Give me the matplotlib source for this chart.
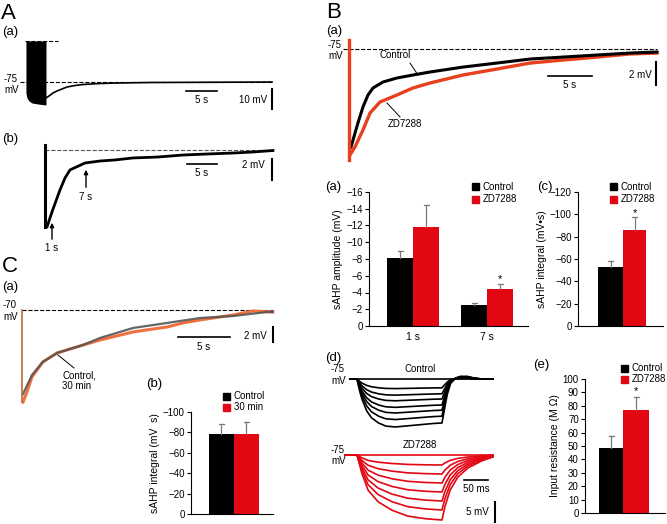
import matplotlib.pyplot as plt
from matplotlib.patches import Rectangle

plt.rcParams['font.family'] = ['Liberation Sans', 'DejaVu Sans']

W, H = 667, 524
RED = '#e30613'
TRACE_RED = '#e8401c'
ORANGE = '#f0703f'

# ---- A(a): spike train + sAHP (s, mV)
aa_block_t = [-3.23, -3.06, -2.74, -2.26, -1.29, 0.0]
aa_block_bot = [-80.5, -83.0, -84.5, -85.5, -86.0, -86.5]
aa_block_top = -54.5
aa_t = [0, 0.48, 1.13, 1.77, 2.58, 3.39, 4.68, 5.97, 8.71, 11.45, 16.77, 24.84, 36.45]
aa_v = [-83, -82, -80.5, -79.5, -78.5, -77.5, -76.75, -76.25, -75.75, -75.5, -75.25, -75.15, -75.0]

# ---- A(b): sAHP zoomed
ab_t = [0, 0.17, 1.0, 2.33, 3.17, 4.0, 6.5, 9.0, 11.5, 14.5, 18.67, 22.83, 27.0, 31.17, 34.5, 37.83]
ab_v = [-82.33, -82.33, -80.9, -78.81, -77.67, -76.9, -76.24, -76.05, -75.95, -75.76,
        -75.67, -75.48, -75.38, -75.29, -75.19, -75.05]

# ---- B(a): control vs ZD7288 sAHP
ba_ctrl_t = [0.23, 1.02, 1.59, 2.16, 2.73, 3.86, 5.45, 7.27, 9.2, 12.95, 16.82, 20.57, 24.32, 28.18, 31.93, 35.0]
ba_ctrl_v = [-83.52, -81.43, -80.04, -79.0, -78.39, -77.87, -77.52, -77.26, -77.0, -76.57,
             -76.22, -75.87, -75.7, -75.52, -75.35, -75.26]
ba_zd_t = [0.11, 0.68, 1.59, 2.39, 3.52, 5.45, 7.27, 9.2, 12.95, 16.82, 20.57, 24.32, 28.18, 31.93, 35.0]
ba_zd_v = [-84.22, -83.52, -82.04, -80.57, -79.61, -79.0, -78.39, -77.96, -77.26, -76.74,
           -76.22, -75.96, -75.7, -75.43, -75.35]

# ---- B(a) bars: sAHP amplitude (mV)
amp_groups = ['1 s', '7 s']
amp_ctrl = [-8.1, -2.5]
amp_ctrl_err = [0.8, 0.3]
amp_zd = [-11.8, -4.4]
amp_zd_err = [2.6, 0.6]

# ---- B(c) bars: sAHP integral (mV*s)
int_ctrl, int_ctrl_err = -52.6, 5.9
int_zd, int_zd_err = -86.0, 11.9

# ---- B(d): voltage responses to current steps (ms, mV)
ctrl_t = [-15, 0, 5, 10, 20, 30, 45, 60, 80, 100, 130, 160, 177, 182, 188, 195, 205, 215, 230, 245, 260, 283]
ctrl_shape = [0, 0, 0.25, 0.45, 0.72, 0.88, 1.0, 1.07, 1.09, 1.07, 1.04, 1.01, 1.0, 0.7, 0.35, 0.1,
              -0.02, -0.06, -0.06, -0.02, 0, 0]
ctrl_steps = [0, -2.2, -3.7, -5.0, -6.5, -7.8, -9.3, -11.0]
zd_t = [-25, 0, 10, 23, 44, 73, 106, 142, 177, 183, 194, 210, 231, 260, 283]
zd_shape = [0, 0, 0.28, 0.54, 0.72, 0.85, 0.94, 0.98, 1.0, 0.8, 0.54, 0.34, 0.2, 0.09, 0.03]
zd_steps = [0, -2.5, -4.75, -7.0, -9.25, -11.5, -13.75, -16.25]

# ---- B(e) bars: input resistance (MOhm)
rin_ctrl, rin_ctrl_err = 48.5, 9.2
rin_zd, rin_zd_err = 77.1, 9.5

# ---- C(a): control vs 30 min
ca_ctrl_t = [0.1, 0.96, 2.0, 3.37, 5.87, 7.5, 10.67, 13.94, 17.1, 20.3, 23.56, 24.1]
ca_ctrl_v = [-81.2, -78.67, -76.93, -75.73, -74.67, -73.73, -72.4, -71.73, -71.07, -70.8, -70.27, -70.27]
ca_30_t = [0.1, 0.48, 0.96, 2.0, 3.37, 5.87, 7.5, 10.67, 13.94, 15.48, 17.1, 20.3, 22.2, 24.1]
ca_30_v = [-82.27, -80.93, -78.93, -76.93, -75.73, -74.67, -74.0, -72.93, -72.27, -71.73,
           -71.33, -70.67, -70.13, -70.27]

# ---- C(b) bars
c_int_ctrl, c_int_ctrl_err = -78.7, 9.8
c_int_30, c_int_30_err = -78.7, 11.5


fig = plt.figure(figsize=(W / 100, H / 100), dpi=100)


def px_axes(x0, y0, x1, y1):
    return fig.add_axes([x0 / W, 1 - y1 / H, (x1 - x0) / W, (y1 - y0) / H])


def ftext(x, y, s, **kw):
    kw.setdefault('fontsize', 7)
    fig.text(x / W, 1 - y / H, s, **kw)


def legend_px(x, y, labels, colors, step=11.5):
    for i, (lab, col) in enumerate(zip(labels, colors)):
        yy = y + i * step
        fig.patches.append(Rectangle((x / W, 1 - (yy + 3.5) / H), 7 / W, 7 / H,
                                     transform=fig.transFigure, color=col))
        ftext(x + 10.5, yy, lab, fontsize=7, va='center')


def style_bar_axes(ax):
    for s in ('top', 'right'):
        ax.spines[s].set_visible(False)
    for s in ('left', 'bottom'):
        ax.spines[s].set_linewidth(0.8)
    ax.tick_params(axis='y', length=3, width=0.8, labelsize=7, pad=1.5)
    ax.tick_params(axis='x', length=0, labelsize=7.5, pad=4)


def err_up(ax, x, val, err, sign=1, cap=2.5):
    top = val + sign * err
    ax.plot([x, x], [val, top], color='#7a7a7a', lw=0.9)
    ax.plot([x - cap, x + cap], [top, top], color='#7a7a7a', lw=0.9)


# panel letters
ftext(1, 19, 'A', fontsize=16)
ftext(2, 35, '(a)', fontsize=9.5)
ftext(2, 142, '(b)', fontsize=9.5)
ftext(2, 272, 'C', fontsize=16)
ftext(2, 290, '(a)', fontsize=9.5)
ftext(146, 387, '(b)', fontsize=9.5)
ftext(326, 18, 'B', fontsize=16)
ftext(326, 34, '(a)', fontsize=9.5)
ftext(325, 190, '(a)', fontsize=9.5)
ftext(537, 190, '(c)', fontsize=9.5)
ftext(325, 361, '(d)', fontsize=9.5)
ftext(533, 368, '(e)', fontsize=9.5)

# ---------------- A(a)
ax = px_axes(20, 35, 280, 115)
ax.axis('off')
ax.set_xlim(-4.19, 37.74)
ax.set_ylim(-91.5, -51.5)
ax.fill_between(aa_block_t, aa_block_bot, aa_block_top, color='k', lw=0)
ax.plot(aa_t, aa_v, color='k', lw=1.2)
ax.plot([-3.39, 1.94], [aa_block_top] * 2, 'k--', lw=0.8)
ax.plot([-4.19, 36.6], [-75, -75], 'k--', lw=0.8)
ax.plot([22.58, 27.58], [-79.5, -79.5], 'k', lw=1.2)
ax.text(25.1, -84, '5 s', ha='center', va='center', fontsize=7)
ax.text(35.6, -84, '10 mV', ha='right', va='center', fontsize=7)
ax.plot([36.45, 36.45], [-78.5, -88.5], 'k', lw=1.5)
ftext(4, 79, '-75', va='center')
ftext(4, 90, 'mV', va='center')

# ---------------- A(b)
ax = px_axes(35, 140, 280, 255)
ax.axis('off')
ax.set_xlim(-1.83, 39)
ax.set_ylim(-85, -74.05)
ax.plot([-0.17, 37.8], [-75, -75], '--', color='#555555', lw=0.8)
ax.plot([-0.17, -0.17], [-74.52, -82.33], 'k', lw=2.2)
ax.plot(ab_t, ab_v, color='k', lw=2.0)
ax.annotate('', xy=(1.0, -81.67), xytext=(1.0, -83.76),
            arrowprops=dict(arrowstyle='-|>', color='k', lw=1, mutation_scale=6))
ax.text(1.0, -84.33, '1 s', ha='center', va='center', fontsize=7)
ax.annotate('', xy=(6.67, -76.62), xytext=(6.67, -78.81),
            arrowprops=dict(arrowstyle='-|>', color='k', lw=1, mutation_scale=6))
ax.text(6.67, -79.48, '7 s', ha='center', va='center', fontsize=7)
ax.plot([23.5, 28.5], [-76.33, -76.33], 'k', lw=1.2)
ax.text(26, -77.19, '5 s', ha='center', va='center', fontsize=7)
ax.text(36.5, -76.43, '2 mV', ha='right', va='center', fontsize=7)
ax.plot([37.67, 37.67], [-75.86, -77.86], 'k', lw=1.5)

# ---------------- B(a) traces
ax = px_axes(343, 35, 662, 165)
ax.axis('off')
ax.set_xlim(-0.68, 35.57)
ax.set_ylim(-85.09, -73.78)
ax.plot([-0.68, 35.0], [-75, -75], 'k--', lw=0.8)
ax.plot(ba_zd_t, ba_zd_v, color=TRACE_RED, lw=2.4)
ax.plot(ba_ctrl_t, ba_ctrl_v, color='k', lw=2.2)
ax.plot([0, 0], [-74.22, -84.65], color=TRACE_RED, lw=2.4)
ax.text(5.2, -75.52, 'Control', ha='center', va='center', fontsize=7)
ax.plot([6.93, 7.84], [-76.22, -77.26], 'k', lw=0.7)
ax.text(6.36, -81.52, 'ZD7288', ha='center', va='center', fontsize=7)
ax.plot([4.32, 5.8], [-79.7, -80.91], 'k', lw=0.7)
ax.plot([22.6, 27.6], [-77.35, -77.35], 'k', lw=1.2)
ax.text(25.1, -78.13, '5 s', ha='center', va='center', fontsize=7)
ax.text(34.4, -77.26, '2 mV', ha='right', va='center', fontsize=7)
ax.plot([34.9, 34.9], [-76.13, -78.13], 'k', lw=1.5)
ftext(328, 45, '-75', va='center')
ftext(328, 56, 'mV', va='center')

# ---------------- B(a) bars
x0, x1 = 369, 528
ax = px_axes(x0, 192, x1, 326)
style_bar_axes(ax)
ax.set_xlim(0, x1 - x0)
ax.set_ylim(0, -16)
ax.set_yticks(range(0, -17, -2))
ctrl_x = [400 - x0, 474 - x0]
zd_x = [426 - x0, 500 - x0]
ax.bar(ctrl_x, amp_ctrl, width=26, color='k')
ax.bar(zd_x, amp_zd, width=26, color=RED)
for x, v, e in zip(ctrl_x, amp_ctrl, amp_ctrl_err):
    err_up(ax, x, v, e, sign=-1)
for x, v, e in zip(zd_x, amp_zd, amp_zd_err):
    err_up(ax, x, v, e, sign=-1)
ax.text(zd_x[1], -5.55, '*', ha='center', va='center', fontsize=8)
ax.set_xticks([413 - x0, 487 - x0])
ax.set_xticklabels(amp_groups)
ax.set_ylabel('sAHP amplitude (mV)', fontsize=7.5, labelpad=2)
legend_px(472, 187, ['Control', 'ZD7288'], ['k', RED], step=12)

# ---------------- B(c) bars
x0, x1 = 578, 663
ax = px_axes(x0, 192, x1, 326)
style_bar_axes(ax)
ax.set_xlim(0, x1 - x0)
ax.set_ylim(0, -120)
ax.set_yticks(range(0, -121, -20))
ax.set_xticks([])
ax.bar(610.5 - x0, int_ctrl, width=25, color='k')
ax.bar(634.5 - x0, int_zd, width=23, color=RED)
err_up(ax, 610.5 - x0, int_ctrl, int_ctrl_err, sign=-1)
err_up(ax, 634.5 - x0, int_zd, int_zd_err, sign=-1)
ax.text(634.5 - x0, -101, '*', ha='center', va='center', fontsize=8)
ax.set_ylabel('sAHP integral (mV\u2022s)', fontsize=7.5, labelpad=2)
legend_px(610, 187, ['Control', 'ZD7288'], ['k', RED], step=12)

# ---------------- B(d) traces
ax = px_axes(343, 365, 500, 432)
ax.axis('off')
ax.set_xlim(-29.2, 297.9)
ax.set_ylim(-88.25, -71.5)
for lev in ctrl_steps:
    ax.plot(ctrl_t, [-75 + lev * s for s in ctrl_shape], color='k', lw=1.2)
ax.text(131, -72.4, 'Control', ha='center', va='center', fontsize=7)
ftext(331, 369, '-75', va='center')
ftext(331, 381, 'mV', va='center')

ax = px_axes(343, 440, 500, 525)
ax.axis('off')
ax.set_xlim(-29.2, 297.9)
ax.set_ylim(-92.5, -71.25)
for lev in zd_steps:
    ax.plot(zd_t, [-75 + lev * s for s in zd_shape], color=RED, lw=1.2)
ax.text(131, -72.4, 'ZD7288', ha='center', va='center', fontsize=7)
ax.plot([223, 273], [-81.25, -81.25], 'k', lw=1.2)
ax.text(248, -83.5, '50 ms', ha='center', va='center', fontsize=7)
ax.text(275, -89.25, '5 mV', ha='right', va='center', fontsize=7)
ax.plot([287.5, 287.5], [-86.75, -91.75], 'k', lw=1.5)
ftext(331, 450, '-75', va='center')
ftext(331, 461, 'mV', va='center')

# ---------------- B(e) bars
x0, x1 = 585, 665
ax = px_axes(x0, 379, x1, 513)
style_bar_axes(ax)
ax.set_xlim(0, x1 - x0)
ax.set_ylim(0, 100)
ax.set_yticks(range(0, 101, 10))
ax.set_xticks([])
ax.bar(611.3 - x0, rin_ctrl, width=24, color='k')
ax.bar(636.3 - x0, rin_zd, width=26, color=RED)
err_up(ax, 611.3 - x0, rin_ctrl, rin_ctrl_err)
err_up(ax, 636.3 - x0, rin_zd, rin_zd_err)
ax.text(636.3 - x0, 91, '*', ha='center', va='center', fontsize=8)
ax.set_ylabel('Input resistance (M \u03a9)', fontsize=7.5, labelpad=2)
legend_px(621, 368, ['Control', 'ZD7288'], ['k', RED], step=11)

# ---------------- C(a) traces
ax = px_axes(15, 300, 280, 410)
ax.axis('off')
ax.set_xlim(-0.67, 24.8)
ax.set_ylim(-83.33, -68.67)
ax.plot([0, 24.13], [-70, -70], 'k--', lw=0.8)
ax.plot(ca_30_t, ca_30_v, color=ORANGE, lw=2.2)
ax.plot(ca_ctrl_t, ca_ctrl_v, color='#555555', lw=1.6, alpha=0.9)
ax.plot([0, 0], [-70, -82.27], color='#b86a3a', lw=1.2)
ax.plot([3.46, 5.0], [-76.0, -77.73], 'k', lw=0.7)
ax.text(3.85, -78.0, 'Control,\n30 min', ha='left', va='top', fontsize=7, linespacing=1.15)
ax.plot([15.0, 20.0], [-73.6, -73.6], 'k', lw=1.2)
ax.text(17.5, -74.93, '5 s', ha='center', va='center', fontsize=7)
ax.text(23.56, -73.47, '2 mV', ha='right', va='center', fontsize=7)
ax.plot([24.13, 24.13], [-72.27, -74.27], 'k', lw=1.5)
ftext(3, 305, '-70', va='center')
ftext(3, 317, 'mV', va='center')

# ---------------- C(b) bars
x0, x1 = 191, 273
ax = px_axes(x0, 412, x1, 514)
style_bar_axes(ax)
ax.set_xlim(0, x1 - x0)
ax.set_ylim(0, -100)
ax.set_yticks(range(0, -101, -20))
ax.set_xticks([])
ax.bar(221 - x0, c_int_ctrl, width=25, color='k')
ax.bar(246 - x0, c_int_30, width=25, color=RED)
err_up(ax, 221 - x0, c_int_ctrl, c_int_ctrl_err, sign=-1)
err_up(ax, 246 - x0, c_int_30, c_int_30_err, sign=-1)
ax.set_ylabel('sAHP integral (mV  s)', fontsize=7.5, labelpad=2)
legend_px(223, 396, ['Control', '30 min'], ['k', RED], step=11)

fig.savefig('out.png', dpi=100)
